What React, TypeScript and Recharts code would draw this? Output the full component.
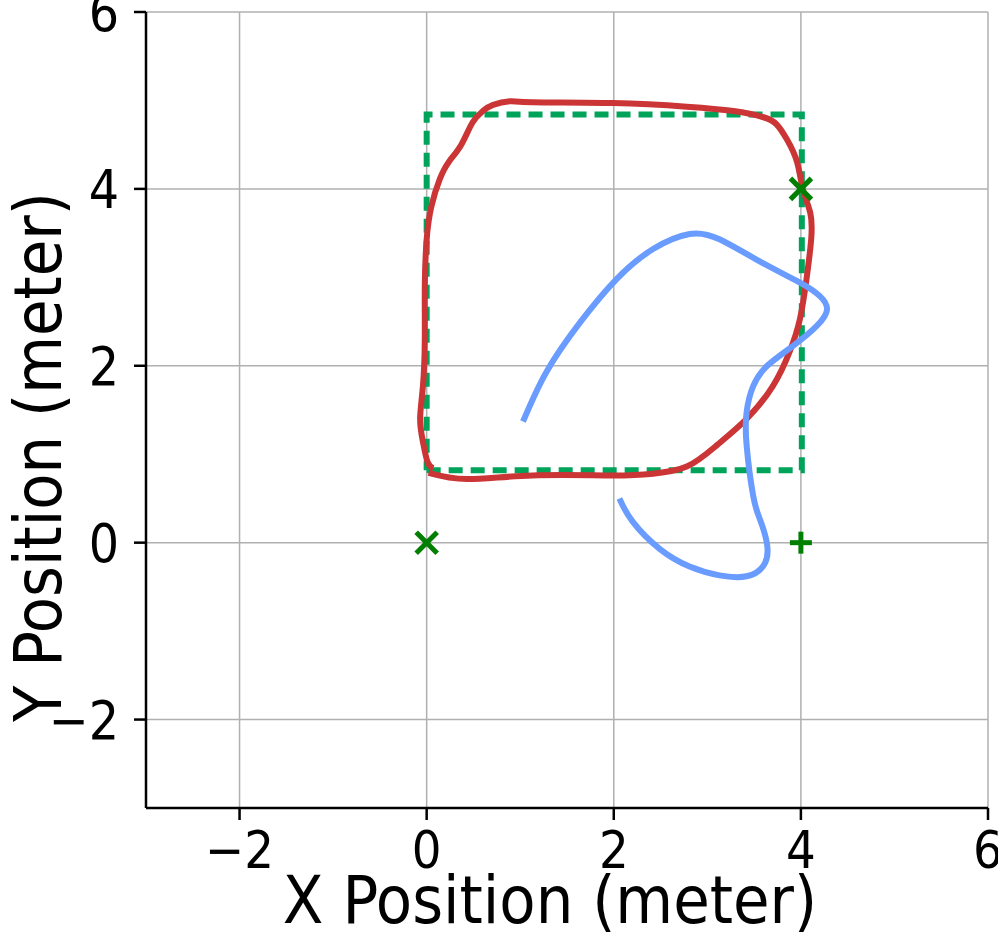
import React from "react";
import { ComposedChart, Line, Scatter, XAxis, YAxis, CartesianGrid } from "recharts";

const X_TICKS = [-2, 0, 2, 4, 6];
const Y_TICKS = [-2, 0, 2, 4, 6];

// planned square path
const PLAN = [
  { x: 0, y: 0.82 },
  { x: 4.01, y: 0.82 },
  { x: 4.01, y: 4.84 },
  { x: 0, y: 4.84 },
  { x: 0, y: 0.82 },
];

// tracked path (red)
const TRACKED = [
  { x: 0.02, y: 0.79 },
  { x: 0.43, y: 0.72 },
  { x: 1.13, y: 0.76 },
  { x: 1.99, y: 0.76 },
  { x: 2.42, y: 0.78 },
  { x: 2.78, y: 0.86 },
  { x: 3.1, y: 1.1 },
  { x: 3.42, y: 1.4 },
  { x: 3.7, y: 1.77 },
  { x: 3.88, y: 2.16 },
  { x: 3.99, y: 2.53 },
  { x: 4.06, y: 2.98 },
  { x: 4.11, y: 3.43 },
  { x: 4.1, y: 3.73 },
  { x: 4.02, y: 4.0 },
  { x: 3.96, y: 4.3 },
  { x: 3.85, y: 4.56 },
  { x: 3.74, y: 4.73 },
  { x: 3.6, y: 4.81 },
  { x: 3.28, y: 4.88 },
  { x: 2.78, y: 4.93 },
  { x: 1.99, y: 4.97 },
  { x: 1.13, y: 4.98 },
  { x: 0.89, y: 4.99 },
  { x: 0.71, y: 4.95 },
  { x: 0.6, y: 4.88 },
  { x: 0.49, y: 4.75 },
  { x: 0.37, y: 4.5 },
  { x: 0.24, y: 4.31 },
  { x: 0.14, y: 4.11 },
  { x: 0.05, y: 3.8 },
  { x: 0.0, y: 3.43 },
  { x: -0.02, y: 2.9 },
  { x: -0.02, y: 2.3 },
  { x: -0.04, y: 1.77 },
  { x: -0.07, y: 1.4 },
  { x: -0.04, y: 1.14 },
  { x: 0.01, y: 0.91 },
  { x: 0.07, y: 0.84 },
];

// other path (blue)
const OTHER = [
  { x: 1.03, y: 1.37 },
  { x: 1.28, y: 1.93 },
  { x: 1.64, y: 2.49 },
  { x: 2.03, y: 2.98 },
  { x: 2.42, y: 3.32 },
  { x: 2.81, y: 3.49 },
  { x: 3.13, y: 3.43 },
  { x: 3.56, y: 3.18 },
  { x: 3.99, y: 2.94 },
  { x: 4.2, y: 2.79 },
  { x: 4.28, y: 2.64 },
  { x: 4.17, y: 2.45 },
  { x: 3.91, y: 2.22 },
  { x: 3.64, y: 2.0 },
  { x: 3.49, y: 1.77 },
  { x: 3.42, y: 1.48 },
  { x: 3.42, y: 1.1 },
  { x: 3.49, y: 0.53 },
  { x: 3.56, y: 0.27 },
  { x: 3.64, y: -0.03 },
  { x: 3.6, y: -0.26 },
  { x: 3.42, y: -0.38 },
  { x: 3.13, y: -0.37 },
  { x: 2.81, y: -0.27 },
  { x: 2.49, y: -0.07 },
  { x: 2.2, y: 0.24 },
  { x: 2.06, y: 0.5 },
];

const CROSS_PTS = [
  { x: 0, y: 0 },
  { x: 4, y: 4 },
];
const PLUS_PTS = [{ x: 4, y: 0 }];

const FONT = "'DejaVu Sans Condensed', 'DejaVu Sans', sans-serif";
const MARK = "#007f00";

const fmt = (v: number) => (v < 0 ? "\u2212" + Math.abs(v) : String(v));

const XTick = (props: any) => {
  const { x, y, payload } = props;
  return (
    <text x={x} y={y + 46} textAnchor="middle" fontSize={52} fontFamily={FONT} fill="#000">
      {fmt(payload.value)}
    </text>
  );
};

const YTick = (props: any) => {
  const { x, y, payload } = props;
  return (
    <text x={x - 13} y={y + 19} textAnchor="end" fontSize={53} fontFamily={FONT} fill="#000">
      {fmt(payload.value)}
    </text>
  );
};

const XLabel = () => (
  <text x={550} y={923} textAnchor="middle" fontSize={66} fontFamily={FONT} fill="#000">
    X Position (meter)
  </text>
);

const YLabel = () => (
  <text
    x={0}
    y={0}
    transform="translate(61, 457) rotate(-90)"
    textAnchor="middle"
    fontSize={66}
    fontFamily={FONT}
    fill="#000"
  >
    Y Position (meter)
  </text>
);

const Cross = (props: any) => {
  const { cx, cy } = props;
  const s = 10.5;
  return (
    <g stroke={MARK} strokeWidth={5}>
      <line x1={cx - s} y1={cy - s} x2={cx + s} y2={cy + s} />
      <line x1={cx - s} y1={cy + s} x2={cx + s} y2={cy - s} />
    </g>
  );
};

const Plus = (props: any) => {
  const { cx, cy } = props;
  const s = 11;
  return (
    <g stroke={MARK} strokeWidth={5}>
      <line x1={cx - s} y1={cy} x2={cx + s} y2={cy} />
      <line x1={cx} y1={cy - s} x2={cx} y2={cy + s} />
    </g>
  );
};

export default function App() {
  return (
    <div style={{ position: "absolute", left: 0, top: 0, width: 998, height: 938, background: "#fff" }}>
      <ComposedChart width={998} height={938} margin={{ top: 12, right: 10, bottom: 0, left: 0 }}>
        <CartesianGrid stroke="#b0b0b0" strokeWidth={1.5} />
        <XAxis
          type="number"
          dataKey="x"
          domain={[-3, 6]}
          ticks={X_TICKS}
          allowDataOverflow
          height={130}
          tickSize={12}
          tick={<XTick />}
          stroke="#000"
          strokeWidth={2.5}
          label={XLabel}
        />
        <YAxis
          type="number"
          dataKey="y"
          domain={[-3, 6]}
          ticks={Y_TICKS}
          allowDataOverflow
          width={146}
          tickSize={12}
          tick={<YTick />}
          stroke="#000"
          strokeWidth={2.5}
          label={YLabel}
        />
        <Line
          data={PLAN}
          dataKey="y"
          type="linear"
          stroke="#00a35a"
          strokeWidth={6}
          strokeDasharray="14 8"
          dot={false}
          isAnimationActive={false}
        />
        <Line
          data={TRACKED}
          dataKey="y"
          type="natural"
          stroke="#cc3535"
          strokeWidth={6}
          dot={false}
          isAnimationActive={false}
        />
        <Line
          data={OTHER}
          dataKey="y"
          type="natural"
          stroke="#6a9bff"
          strokeWidth={6}
          dot={false}
          isAnimationActive={false}
        />
        <Scatter data={CROSS_PTS} dataKey="y" shape={<Cross />} isAnimationActive={false} />
        <Scatter data={PLUS_PTS} dataKey="y" shape={<Plus />} isAnimationActive={false} />
      </ComposedChart>
    </div>
  );
}
